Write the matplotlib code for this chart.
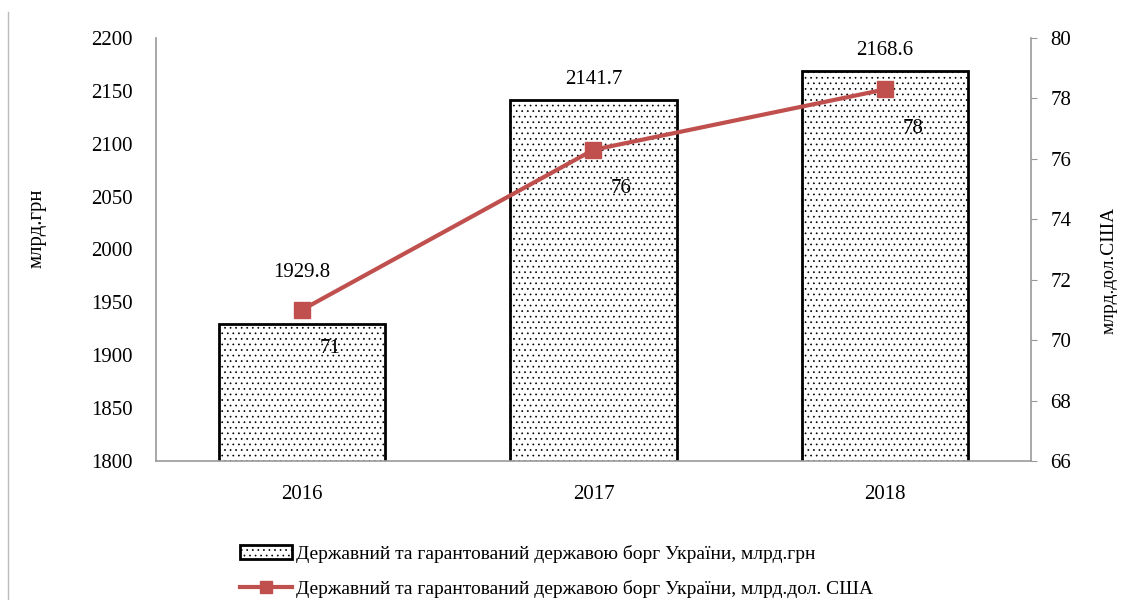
import matplotlib.pyplot as plt
from matplotlib.lines import Line2D
from matplotlib.patches import Patch
import numpy as np

years = ["2016", "2017", "2018"]
debt_uah = [1929.8, 2141.7, 2168.6]
debt_usd = [71.0, 76.3, 78.3]
usd_labels = ["71", "76", "78"]

uah_name = "Державний та гарантований державою борг України, млрд.грн"
usd_name = "Державний та гарантований державою борг України, млрд.дол. США"

plt.rcParams["font.family"] = ["Liberation Serif", "DejaVu Serif"]
plt.rcParams["hatch.linewidth"] = 0.5
red = "#C0504D"
fs = 15

fig = plt.figure(figsize=(11.21, 6.0), dpi=100)
ax = fig.add_axes([156 / 1121, 1 - 461 / 600, 875 / 1121, 423 / 600])
x = np.arange(len(years))

ax.bar(x, debt_uah, width=0.57, color="white", edgecolor="black",
       linewidth=2, hatch="...", zorder=2)
# first label is lifted to clear the line marker
label_lift = [30, 8, 8]
for xi, v, lift in zip(x, debt_uah, label_lift):
    ax.annotate(f"{v:.1f}", (xi, v), xytext=(0, lift), textcoords="offset points",
                ha="center", va="bottom", fontsize=fs)

ax.set_xlim(-0.5, 2.5)
ax.set_ylim(1800, 2200)
ax.set_yticks(np.arange(1800, 2201, 50))
ax.set_xticks(x)
ax.set_xticklabels(years)
ax.tick_params(axis="y", length=0, labelsize=fs, pad=17)
ax.tick_params(axis="x", length=0, labelsize=fs, pad=17)
for side in ["top", "right"]:
    ax.spines[side].set_visible(False)
for side in ["left", "bottom"]:
    ax.spines[side].set_color("#999999")
    ax.spines[side].set_linewidth(1.2)
ax.set_ylabel("млрд.грн", fontsize=fs)
ax.yaxis.set_label_coords(-0.125, 0.55)

ax2 = ax.twinx()
ax2.plot(x, debt_usd, color=red, lw=3, marker="s", markersize=11, zorder=3)
for xi, v, lab in zip(x, debt_usd, usd_labels):
    ax2.annotate(lab, (xi, v), xytext=(20, -28), textcoords="offset points",
                 ha="center", va="center", fontsize=fs)
ax2.set_ylim(66, 80)
ax2.set_yticks(np.arange(66, 81, 2))
ax2.tick_params(axis="y", length=4, color="#999999", labelsize=fs, pad=10)
for side in ["top", "left", "bottom"]:
    ax2.spines[side].set_visible(False)
ax2.spines["right"].set_color("#999999")
ax2.spines["right"].set_linewidth(1.2)
ax2.set_ylabel("млрд.дол.США", fontsize=14)
ax2.yaxis.set_label_coords(1.08, 0.45)

handles = [
    Patch(facecolor="white", edgecolor="black", hatch="...", linewidth=2),
    Line2D([0], [0], color=red, lw=3, marker="s", markersize=8),
]
fig.legend(handles, [uah_name, usd_name], loc="lower left",
           bbox_to_anchor=(222 / 1121, -0.025), frameon=False, fontsize=14,
           handlelength=2.7, handletextpad=0.2, labelspacing=0.85)

fig.add_artist(Line2D([8 / 1121, 8 / 1121], [0, 1 - 12 / 600], color="#bbbbbb", lw=1))

fig.savefig("out.png", dpi=100)
